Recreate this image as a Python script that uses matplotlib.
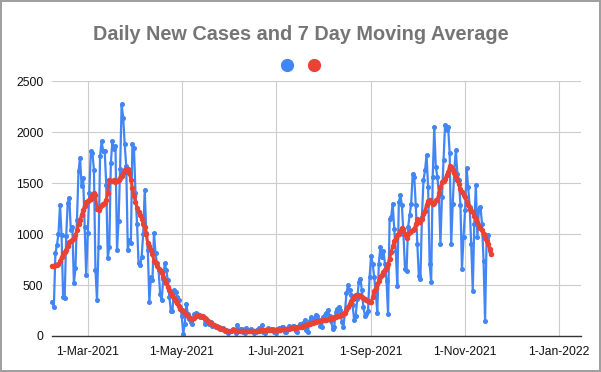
import matplotlib
matplotlib.use('Agg')
import matplotlib.pyplot as plt
import matplotlib.dates as mdates
from matplotlib.lines import Line2D
from matplotlib.ticker import FuncFormatter
import pandas as pd

TITLE = 'Daily New Cases and 7 Day Moving Average'
START = '2021-02-06'
X_MIN = '2021-02-05 14:00'
X_MAX = '2022-01-15'

# one row per week, starting Saturday 6 Feb 2021
daily_cases = [
    335, 286, 812, 895, 1003, 1290, 987,
    385, 368, 977, 1306, 1355, 1043, 1075,
    516, 664, 1141, 1618, 1750, 1470, 1552,
    1075, 599, 1010, 1404, 1816, 1799, 1635,
    648, 352, 878, 1766, 1914, 1816, 1816,
    1487, 763, 878, 1700, 1914, 1832, 1865,
    845, 1125, 1640, 2276, 2145, 1882, 1668,
    845, 944, 911, 1882, 1850, 1404, 1100,
    714, 697, 778, 1000, 1437, 1010, 845,
    331, 580, 546, 1010, 811, 712, 646,
    414, 348, 560, 712, 646, 546, 381,
    248, 248, 447, 430, 381, 348, 281,
    199, 23, 116, 315, 215, 166, 140,
    116, 215, 222, 215, 200, 182, 190,
    199, 116, 149, 130, 116, 132, 99,
    110, 83, 99, 90, 70, 66, 75,
    50, 60, 33, 45, 50, 70, 60,
    25, 106, 55, 70, 65, 40, 30,
    75, 60, 55, 70, 45, 25, 35,
    60, 80, 60, 106, 40, 30, 55,
    75, 60, 65, 70, 35, 30, 70,
    80, 75, 85, 90, 40, 35, 75,
    97, 85, 95, 100, 45, 40, 90,
    120, 110, 130, 155, 60, 40, 150,
    187, 170, 160, 203, 200, 152, 102,
    90, 185, 201, 230, 251, 200, 150,
    69, 86, 234, 267, 284, 250, 135,
    86, 234, 420, 498, 449, 399, 300,
    152, 200, 366, 531, 564, 449, 280,
    197, 214, 247, 576, 789, 707, 580,
    428, 230, 707, 872, 773, 839, 707,
    543, 214, 1151, 1168, 1299, 1053, 839,
    493, 1316, 1382, 1283, 1000, 658, 641,
    1069, 1184, 1299, 1595, 1562, 1283, 900,
    592, 559, 1168, 1530, 1628, 1776, 1464,
    707, 526, 1562, 2056, 1661, 1562, 1398,
    905, 1365, 1727, 2072, 2020, 2056, 1793,
    905, 1300, 1628, 1826, 1595, 1530, 1283,
    658, 970, 1234, 1645, 1464, 1266, 900,
    444, 1102, 1480, 970, 1250, 1266, 1100,
    740, 148, 970, 987, 839, 806,
]

moving_avg = [
    688, 690, 695, 700, 705, 740, 773,
    813, 820, 845, 880, 920, 935, 944,
    960, 990, 1040, 1100, 1141, 1190, 1240,
    1280, 1315, 1325, 1335, 1350, 1380, 1404,
    1380, 1250, 1240, 1265, 1285, 1300, 1306,
    1340, 1404, 1536, 1520, 1520, 1530, 1510,
    1520, 1536, 1550, 1569, 1600, 1635, 1640,
    1641, 1600, 1536, 1450, 1372, 1320, 1257,
    1220, 1191, 1150, 1100, 1075, 1000, 911,
    880, 845, 800, 740, 714, 690, 660,
    648, 620, 582, 550, 516, 480, 450,
    420, 400, 370, 340, 320, 290, 265,
    253, 240, 225, 220, 200, 185, 170,
    165, 175, 200, 210, 205, 200, 197,
    185, 175, 164, 150, 140, 130, 115,
    105, 95, 88, 80, 76, 70, 65,
    58, 52, 50, 49, 52, 56, 55,
    53, 50, 49, 48, 49, 50, 48,
    48, 49, 50, 52, 50, 49, 49,
    50, 52, 55, 56, 58, 57, 55,
    56, 58, 58, 60, 60, 58, 60,
    62, 63, 65, 66, 68, 68, 70,
    72, 75, 78, 80, 81, 83, 85,
    88, 90, 95, 105, 110, 115, 120,
    125, 130, 135, 140, 145, 150, 150,
    152, 155, 158, 160, 165, 170, 175,
    180, 185, 190, 195, 200, 205, 210,
    215, 225, 250, 280, 317, 340, 365,
    385, 399, 400, 399, 395, 385, 370,
    362, 350, 340, 333, 329, 380, 440,
    470, 510, 543, 581, 600, 630, 650,
    680, 707, 760, 820, 880, 930, 960,
    990, 1003, 1030, 1059, 1053, 1000, 960,
    1000, 1020, 1030, 1036, 1050, 1100, 1151,
    1140, 1118, 1150, 1201, 1230, 1290, 1329,
    1332, 1320, 1299, 1310, 1332, 1340, 1400,
    1460, 1513, 1526, 1546, 1580, 1612, 1670,
    1660, 1628, 1600, 1562, 1530, 1497, 1440,
    1410, 1380, 1362, 1320, 1283, 1250, 1230,
    1217, 1180, 1150, 1118, 1082, 1060, 1036,
    1000, 960, 934, 900, 850, 806,
]

y_ticks = [0, 500, 1000, 1500, 2000, 2500]

BLUE = '#4285f4'
RED = '#ea4335'
GRID = '#cccccc'


def date_label(x, pos):
    d = mdates.num2date(x)
    return '%d-%s' % (d.day, d.strftime('%b-%Y'))


def main():
    plt.rcParams['font.family'] = ['Liberation Sans', 'DejaVu Sans']
    dates = pd.date_range(START, periods=len(daily_cases), freq='D')

    fig = plt.figure(figsize=(6.01, 3.72), dpi=100)
    fig.patch.set_edgecolor('#a0a0a0')
    fig.patch.set_linewidth(1.5)
    ax = fig.add_axes([0.086, 0.097, 0.880, 0.684])

    ax.plot(dates, daily_cases, color=BLUE, lw=1.6, marker='o', ms=2.6,
            zorder=3, clip_on=False)
    ax.plot(dates, moving_avg, color=RED, lw=2.2, marker='o', ms=2.9,
            zorder=4, clip_on=False)

    ax.set_xlim(pd.Timestamp(X_MIN), pd.Timestamp(X_MAX))
    ax.set_ylim(y_ticks[0], y_ticks[-1])
    ax.set_yticks(y_ticks)
    ax.xaxis.set_major_locator(mdates.MonthLocator(bymonth=[1, 3, 5, 7, 9, 11]))
    ax.xaxis.set_major_formatter(FuncFormatter(date_label))

    ax.grid(True, color=GRID, lw=0.8)
    ax.set_axisbelow(True)
    for side in ['left', 'right', 'top']:
        ax.spines[side].set_visible(False)
    ax.spines['bottom'].set_color('#333333')
    ax.spines['bottom'].set_linewidth(1.0)
    ax.spines['bottom'].set_zorder(5)
    ax.tick_params(length=0, labelsize=8.7, colors='#111111')
    ax.tick_params(axis='x', pad=7)
    ax.tick_params(axis='y', pad=6)

    fig.text(0.5, 1 - 34 / 372, TITLE, ha='center', va='center',
             fontsize=14.3, fontweight='bold', color='#757575')

    handles = [Line2D([], [], color=BLUE, marker='o', ls='none', ms=8.5),
               Line2D([], [], color=RED, marker='o', ls='none', ms=8.5)]
    fig.legend(handles, ['', ''], loc='center', bbox_to_anchor=(0.5, 1 - 66 / 372),
               ncol=2, frameon=False, handlelength=1, handletextpad=0,
               columnspacing=1.0, fontsize=10)

    fig.savefig('out.png', dpi=100, edgecolor=fig.get_edgecolor())


if __name__ == '__main__':
    main()
